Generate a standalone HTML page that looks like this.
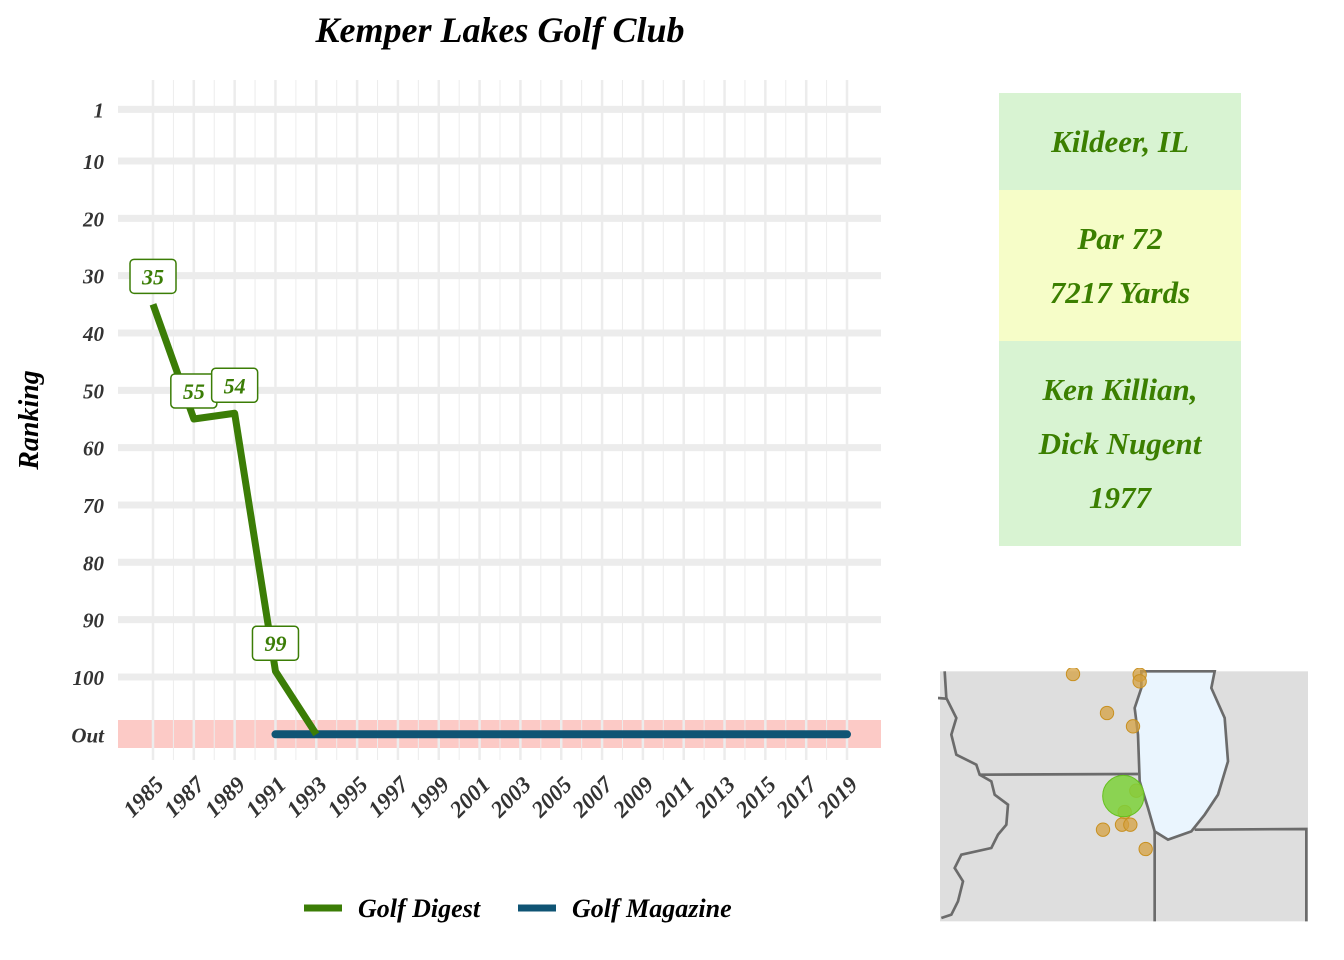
<!DOCTYPE html>
<html><head><meta charset="utf-8"><style>
body{margin:0;background:#fff;width:1344px;height:960px;overflow:hidden;position:relative;font-family:"Liberation Serif",serif;font-style:italic;font-weight:bold}
.box{position:absolute;left:999px;width:242px;display:flex;flex-direction:column;justify-content:center;align-items:center;color:#3b7f00;font-size:31px;line-height:54px}
</style></head><body>
<svg id="chart" width="940" height="960" style="position:absolute;left:0;top:0"></svg>
<div class="box" style="top:93px;height:97px;background:#d8f3d2">Kildeer, IL</div>
<div class="box" style="top:190px;height:151px;background:#f6fdc8"><div>Par 72</div><div>7217 Yards</div></div>
<div class="box" style="top:341px;height:205px;background:#d8f3d2"><div>Ken Killian,</div><div>Dick Nugent</div><div>1977</div></div>
<svg style="position:absolute;left:938px;top:668px" width="372" height="256" viewBox="0 0 1116 768">
<rect x="6" y="10" width="1104" height="750" fill="#dedede"/>
<path d="M610,10 L830,10 820,60 860,150 870,280 840,380 800,440 760,490 690,515 650,490 630,420 605,340 600,200 590,120 610,60Z" fill="#eaf5fe" stroke="#6b6b6b" stroke-width="8"/>
<g fill="none" stroke="#6b6b6b" stroke-width="8">
<path d="M125,320 L600,318"/>
<path d="M20,10 L25,90 55,150 40,200 55,260 115,290 125,320 160,340 170,380 210,410 205,470 180,500 160,540 70,560 50,600 75,640 60,700 40,740 10,750"/>
<path d="M0,90 L25,92"/>
<path d="M650,490 L650,760"/>
<path d="M770,485 L1105,483 1105,760"/>
</g>
<g fill="#d4a040" fill-opacity="0.75" stroke="#c89020" stroke-width="3">
<circle cx="405" cy="18" r="20"/><circle cx="605" cy="20" r="20"/><circle cx="605" cy="40" r="20"/><circle cx="507" cy="135" r="20"/><circle cx="585" cy="175" r="20"/><circle cx="595" cy="368" r="20"/><circle cx="560" cy="432" r="20"/><circle cx="552" cy="470" r="20"/><circle cx="577" cy="470" r="20"/><circle cx="495" cy="485" r="20"/><circle cx="623" cy="543" r="20"/>
</g>
<circle cx="556" cy="384" r="62" fill="#7cd13a" fill-opacity="0.85" stroke="#66c020" stroke-width="3"/>
</svg>
<script>
const years=["1985","1987","1989","1991","1993"];
const digest=[35,55,54,99,110];
const magYears=[1991,2019];
const magazine=[110,110];
const yTicks=[1,10,20,30,40,50,60,70,80,90,100,110];
const yLabels=["1","10","20","30","40","50","60","70","80","90","100","Out"];
const xTicks=[1985,1987,1989,1991,1993,1995,1997,1999,2001,2003,2005,2007,2009,2011,2013,2015,2017,2019];
const labelled=[35,55,54,99];
const NS="http://www.w3.org/2000/svg";
const svg=document.getElementById('chart');
const X=y=>153+(y-1985)*(847-153)/34;
const Y=r=>161+(r-10)*5.733;
function el(t,a,p){const e=document.createElementNS(NS,t);for(const k in a)e.setAttribute(k,a[k]);(p||svg).appendChild(e);return e;}
const F='"Liberation Serif",serif';
let band=el('rect',{x:118,y:720,width:763,height:28,fill:'#fccac6'});

for(let yr=1985;yr<=2019;yr++){let l=el('line',{x1:X(yr),x2:X(yr),y1:80,y2:760,stroke:'#ececec','stroke-width':yr%2?2.5:1});
}
yTicks.forEach((t,i)=>{if(t<110){let l=el('line',{x1:118,x2:881,y1:Y(t),y2:Y(t),stroke:'#ececec','stroke-width':7});
}
let tx=el('text',{x:104,y:Y(t)+8,'text-anchor':'end','font-family':F,'font-style':'italic','font-weight':'bold','font-size':21,fill:'#333'});tx.textContent=yLabels[i];
});
xTicks.forEach(t=>{let tx=el('text',{transform:`translate(${X(t)+12},${786}) rotate(-45)`,'text-anchor':'end','font-family':F,'font-style':'italic','font-weight':'bold','font-size':23,fill:'#333'});tx.textContent=t;
});
let mg=el('polyline',{points:magYears.map((y,i)=>X(y)+','+Y(magazine[i])).join(' '),fill:'none',stroke:'#0f5474','stroke-width':8,'stroke-linecap':'round'});

let dg=el('polyline',{points:years.map((y,i)=>X(+y)+','+Y(digest[i])).join(' '),fill:'none',stroke:'#3b7d06','stroke-width':7,'stroke-linejoin':'round'});

labelled.forEach((v,i)=>{const cx=X(+years[i]),cy=Y(v)-28;
let r=el('rect',{x:cx-23,y:cy-17,width:46,height:34,rx:4,fill:'#fff',stroke:'#3b7d06','stroke-width':1.5});

let t=el('text',{x:cx,y:cy+8,'text-anchor':'middle','font-family':F,'font-style':'italic','font-weight':'bold','font-size':22,fill:'#3b7d06'});t.textContent=v;
});
let ti=el('text',{x:500,y:42,'text-anchor':'middle','font-family':F,'font-style':'italic','font-weight':'bold','font-size':36});ti.textContent='Kemper Lakes Golf Club';

let ya=el('text',{transform:'translate(38,420) rotate(-90)','text-anchor':'middle','font-family':F,'font-style':'italic','font-weight':'bold','font-size':28});ya.textContent='Ranking';

[[304,'#3b7d06','Golf Digest'],[518,'#0f5474','Golf Magazine']].forEach(([x,c,n])=>{
let l=el('line',{x1:x,x2:x+38,y1:908,y2:908,stroke:c,'stroke-width':7});
let t=el('text',{x:x+54,y:917,'font-family':F,'font-style':'italic','font-weight':'bold','font-size':26});t.textContent=n;
});
</script>
</body></html>
